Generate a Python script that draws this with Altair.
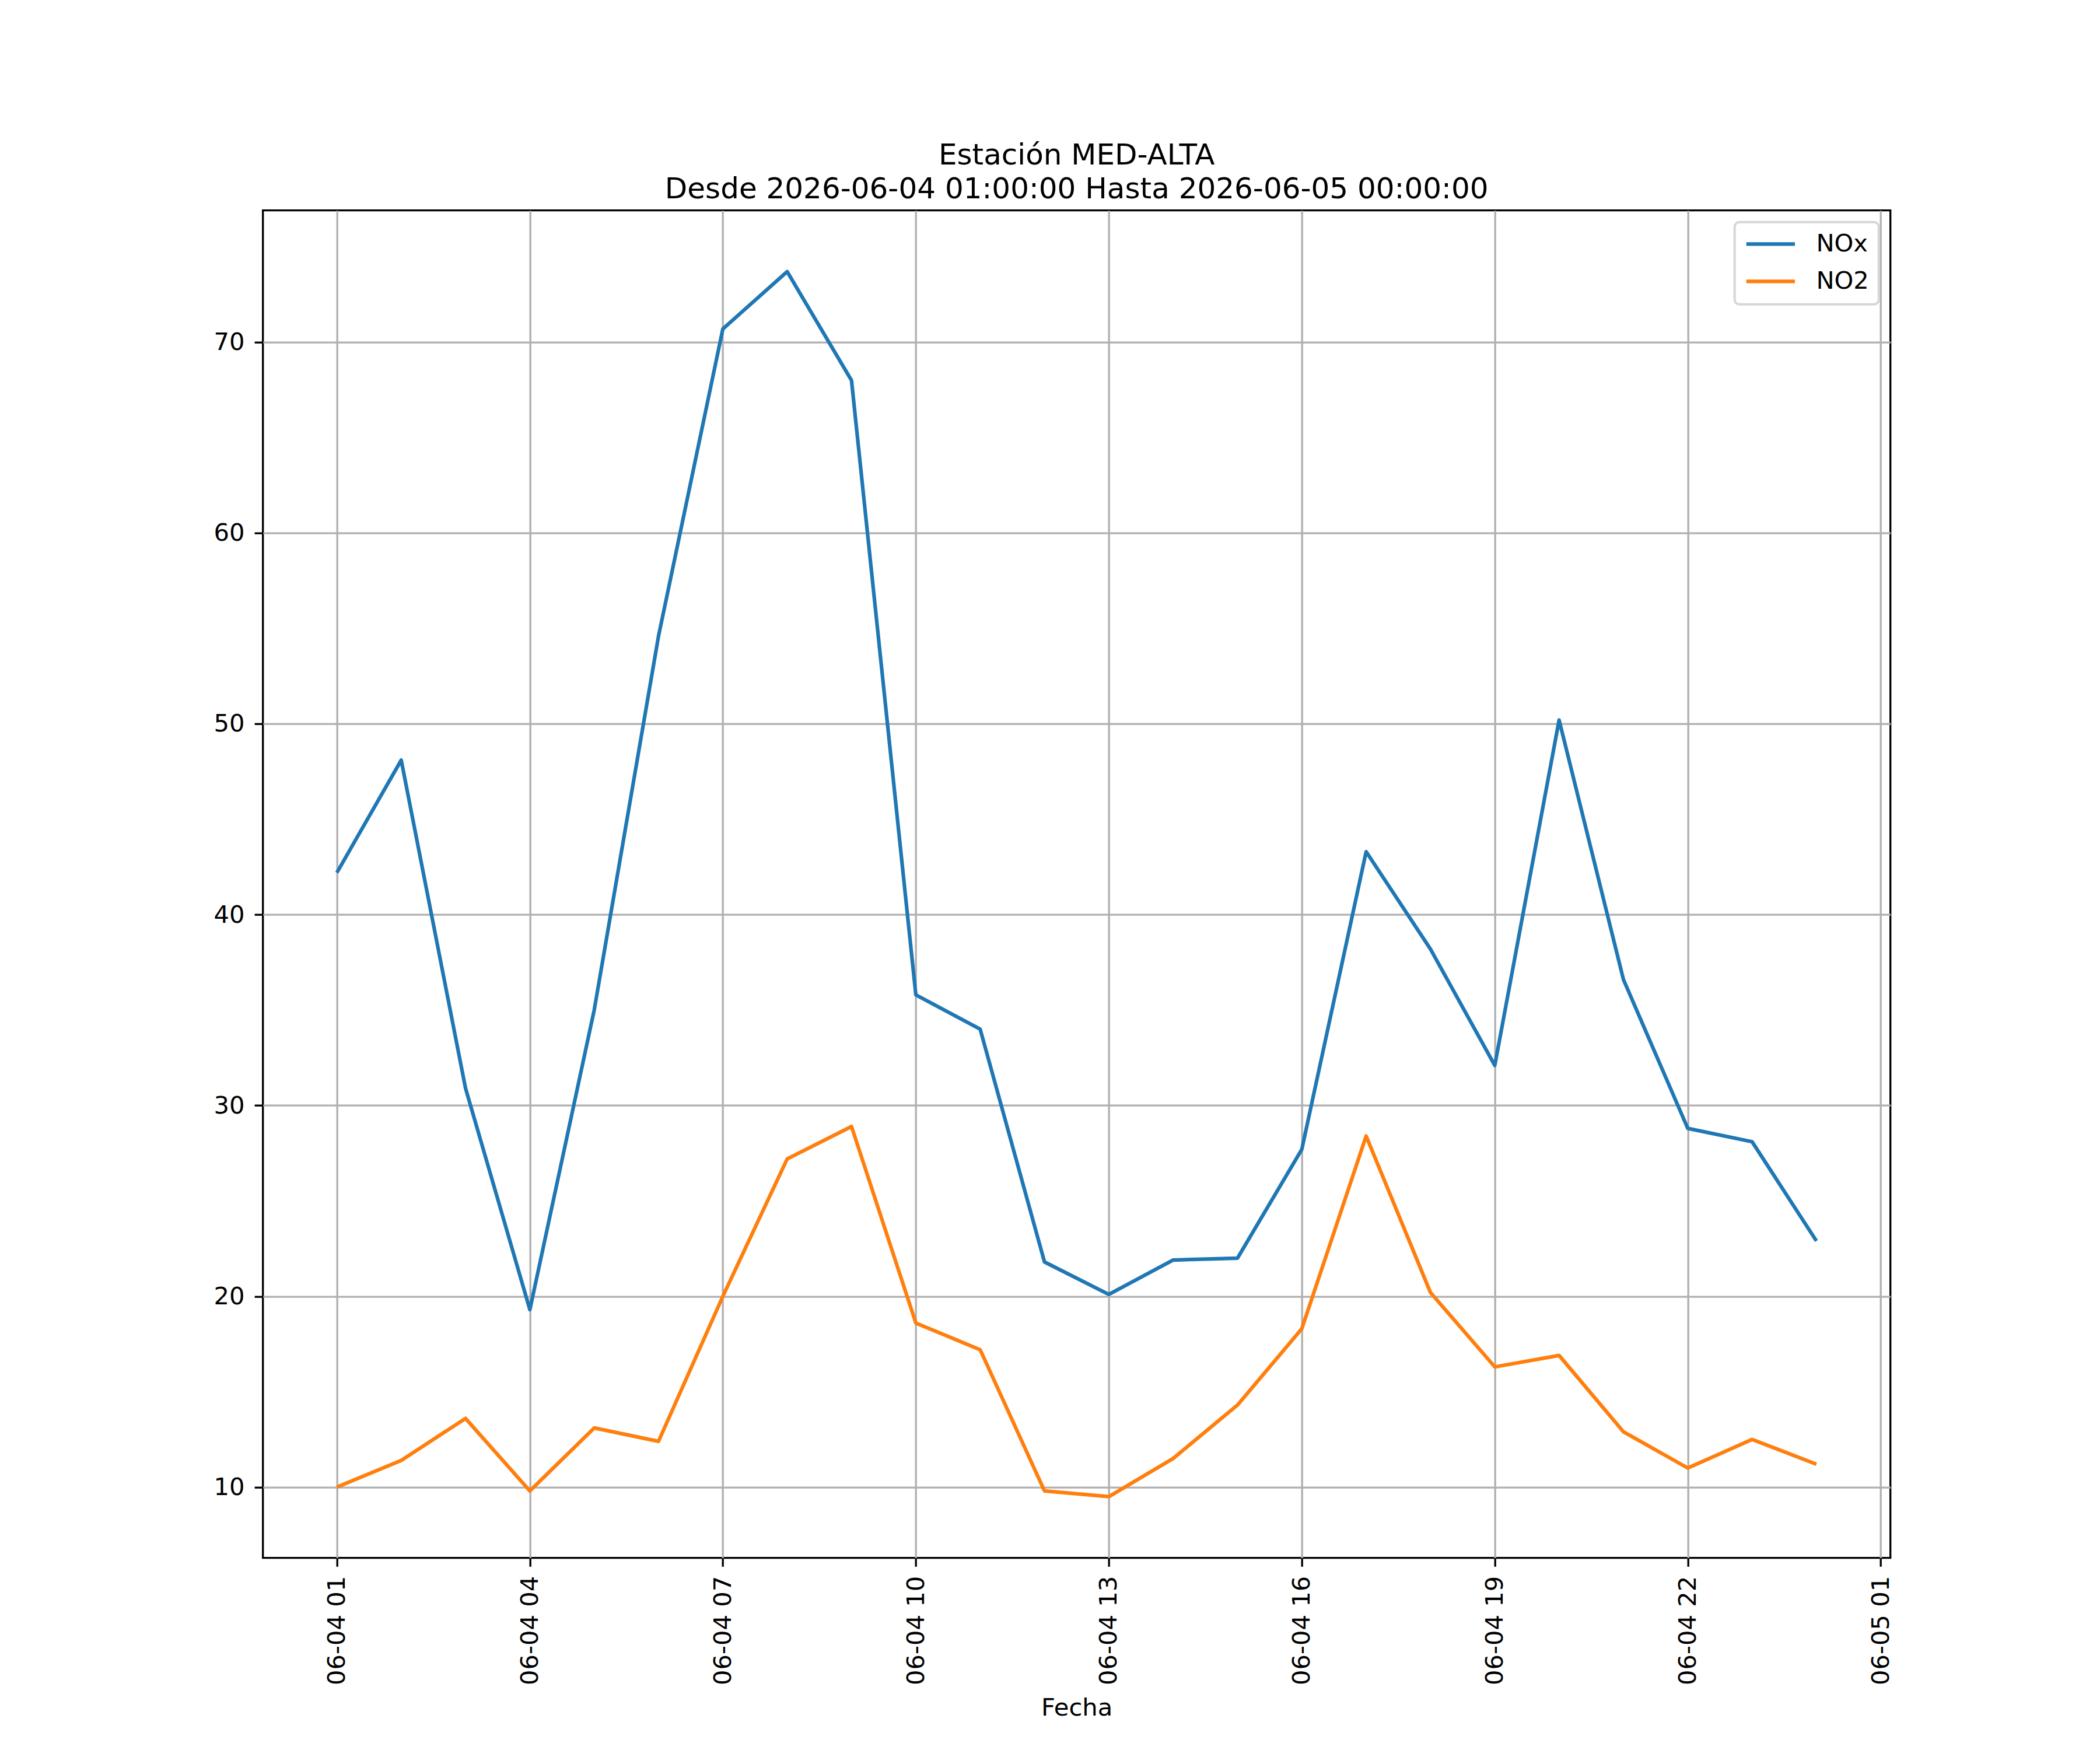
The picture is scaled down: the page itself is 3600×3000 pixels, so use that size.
import altair as alt
import pandas as pd

hours = [
    "2026-06-04T01:00:00", "2026-06-04T02:00:00", "2026-06-04T03:00:00",
    "2026-06-04T04:00:00", "2026-06-04T05:00:00", "2026-06-04T06:00:00",
    "2026-06-04T07:00:00", "2026-06-04T08:00:00", "2026-06-04T09:00:00",
    "2026-06-04T10:00:00", "2026-06-04T11:00:00", "2026-06-04T12:00:00",
    "2026-06-04T13:00:00", "2026-06-04T14:00:00", "2026-06-04T15:00:00",
    "2026-06-04T16:00:00", "2026-06-04T17:00:00", "2026-06-04T18:00:00",
    "2026-06-04T19:00:00", "2026-06-04T20:00:00", "2026-06-04T21:00:00",
    "2026-06-04T22:00:00", "2026-06-04T23:00:00", "2026-06-05T00:00:00",
]

nox = [42.2, 48.1, 30.9, 19.3, 35.0, 54.6, 70.7, 73.7, 68.0, 35.8, 34.0, 21.8,
       20.1, 21.9, 22.0, 27.7, 43.3, 38.2, 32.1, 50.2, 36.6, 28.8, 28.1, 22.9]
no2 = [10.0, 11.4, 13.6, 9.8, 13.1, 12.4, 20.0, 27.2, 28.9, 18.6, 17.2, 9.8,
       9.5, 11.5, 14.3, 18.3, 28.4, 20.2, 16.3, 16.9, 12.9, 11.0, 12.5, 11.2]

series = ["NOx", "NO2"]
colors = ["#1f77b4", "#ff7f0e"]

title_lines = ["Estación MED-ALTA",
               "Desde 2026-06-04 01:00:00 Hasta 2026-06-05 00:00:00"]
x_title = "Fecha"

df = pd.DataFrame({
    "Fecha": hours * 2,
    "valor": nox + no2,
    "serie": ["NOx"] * len(nox) + ["NO2"] * len(no2),
})

# matplotlib-like 5% margins
allv = nox + no2
vmin, vmax = min(allv), max(allv)
pad = 0.05 * (vmax - vmin)
ydom = [vmin - pad, vmax + pad]

xdom = [alt.DateTime(year=2026, month=6, date=3, hours=23, minutes=51),
        alt.DateTime(year=2026, month=6, date=5, hours=1, minutes=9)]
xticks = [alt.DateTime(year=2026, month=6, date=4, hours=h) for h in (1, 4, 7, 10, 13, 16, 19, 22)] + \
         [alt.DateTime(year=2026, month=6, date=5, hours=1)]

FONT = "DejaVu Sans"
FS = 41.67
LW = 3.33

chart = alt.Chart(df).mark_line(strokeWidth=6.25, strokeJoin="round").encode(
    x=alt.X("Fecha:T",
            scale=alt.Scale(domain=xdom, nice=False),
            axis=alt.Axis(values=xticks, format="%m-%d %H", labelAngle=270,
                          labelPadding=16, title=x_title, titlePadding=37,
                          labelOverlap=False, labelFlush=False, labelLimit=1000)),
    y=alt.Y("valor:Q",
            scale=alt.Scale(domain=ydom, nice=False, zero=False),
            axis=alt.Axis(values=[10, 20, 30, 40, 50, 60, 70], format="d",
                          labelPadding=17, title=None)),
    color=alt.Color("serie:N",
                    scale=alt.Scale(domain=series, range=colors),
                    sort=series,
                    legend=alt.Legend(title=None, orient="top-right", offset=20,
                                      symbolType="stroke", symbolSize=6944,
                                      symbolStrokeWidth=6.25, labelFontSize=FS,
                                      labelFont=FONT, labelColor="black",
                                      clipHeight=42, rowPadding=21, padding=16.7,
                                      strokeColor="#d6d6d6", cornerRadius=8,
                                      fillColor="white", labelOffset=33)),
).properties(
    width=2790,
    height=2310,
    title=alt.TitleParams(text=title_lines, fontSize=50, font=FONT,
                          fontWeight="normal", color="black", anchor="middle",
                          baseline="bottom", lineHeight=58, offset=14, dy=53),
    autosize=alt.AutoSizeParams(type="none"),
    padding={"left": 442.7, "top": 352.7, "right": 330, "bottom": 300},
    background="white",
).configure_view(
    stroke="black", strokeWidth=LW, fill="white"
).configure_axis(
    grid=True, gridColor="#b0b0b0", gridWidth=LW, gridOpacity=1,
    domain=False, tickColor="black", tickWidth=LW, tickSize=14.6,
    labelFont=FONT, labelFontSize=FS, labelColor="black",
    titleFont=FONT, titleFontSize=FS, titleFontWeight="normal", titleColor="black",
).configure_legend(
    strokeWidth=4
)

chart.save("out.html", embed_options={"renderer": "svg", "actions": False})
